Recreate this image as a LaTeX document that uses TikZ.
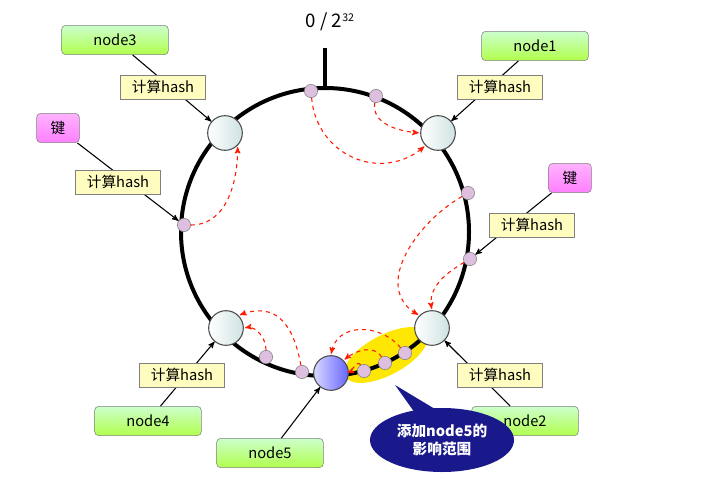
\documentclass[tikz,border=0pt]{standalone}
\usepackage{fontspec}
\setmainfont{DejaVu Sans}
\newfontfamily\cjk{Noto Sans CJK SC}
\usetikzlibrary{arrows,shapes,backgrounds}

\begin{document}
\begin{tikzpicture}[x=0.75pt,y=-0.75pt,>=stealth',font=\cjk\fontsize{11}{13}\selectfont]
        \tikzset{ringnode/.style={circle,draw=black!70,thick,minimum size=26pt,inner sep=0pt,left color=white,right color=cyan!25!gray!30},
                 newnode/.style={ringnode,left color=blue!15,right color=blue!60},
                 dot/.style={circle,draw=gray,fill=violet!25,minimum size=10pt,inner sep=0pt},
                 namebox/.style={draw=gray,rounded corners=3pt,top color=white!80!green,bottom color=green!25!lime!70,minimum width=80pt,minimum height=22pt},
                 hashbox/.style={draw=gray,fill=yellow!25,minimum width=64pt,minimum height=18pt,inner sep=2pt},
                 keybox/.style={draw=gray,rounded corners=3pt,top color=white!70!magenta,bottom color=magenta!50,minimum width=32pt,minimum height=22pt},
                 link/.style={->,thick},
                 move/.style={->,dashed,red!80!orange,thick,shorten >=1pt}}
        \useasboundingbox (0,0) rectangle (709,478);
        % highlighted range
        \fill[yellow!90!orange,rotate around={28:(386,355)}] (386,355) ellipse (46 and 20);
        % ring
        \draw[line width=3pt] (325,232) circle (144);
        \draw[line width=3pt] (325,88) -- (325,48);
        \node (top) at (330,22) {\fontsize{14}{16}\selectfont 0 / 2\raisebox{5pt}{\fontsize{8}{9}\selectfont 32}};

        \node[ringnode] (n3) at (225,133) {};
        \node[ringnode] (n1) at (438,133) {};
        \node[ringnode] (n4) at (226,328) {};
        \node[ringnode] (n2) at (432,328) {};
        \node[newnode]  (n5) at (331,373) {};

        \node[dot] (d1) at (311,91) {};
        \node[dot] (d2) at (376,96) {};
        \node[dot] (d3) at (184,225) {};
        \node[dot] (d4) at (468,193) {};
        \node[dot] (d5) at (470,259) {};
        \node[dot] (d6) at (266,357) {};
        \node[dot] (d7) at (302,372) {};
        \node[dot] (d8) at (364,371) {};
        \node[dot] (d9) at (385,363) {};
        \node[dot] (d10) at (405,353) {};

        \node[namebox] (b3) at (115,40) {node3};
        \node[namebox] (b1) at (535,46) {node1};
        \node[namebox] (b4) at (148,421) {node4};
        \node[namebox] (b5) at (270,453) {node5};
        \node[namebox] (b2) at (525,421) {node2};
        \node[keybox] (k1) at (58,128) {键};
        \node[keybox] (k2) at (570,178) {键};

        \draw[link] (b3) -- (n3);
        \draw[link] (b1) -- (n1);
        \draw[link] (b4) -- (n4);
        \draw[link] (b5) -- (n5);
        \draw[link] (b2) -- (n2);
        \draw[link] (k1) -- (d3);
        \draw[link] (k2) -- (d5);

        \node[hashbox] (h3) at (163,87) {计算hash};
        \node[hashbox] (h1) at (500,87) {计算hash};
        \node[hashbox] (hk1) at (118,182) {计算hash};
        \node[hashbox] (hk2) at (532,225) {计算hash};
        \node[hashbox] (h4) at (182,375) {计算hash};
        \node[hashbox] (h2) at (500,375) {计算hash};

        \draw[move] (d1) to[out=-85,in=-140,looseness=1.2] (n1.south west);
        \draw[move] (d2) to[out=-100,in=175] (n1.west);
        \draw[move] (d3) to[out=0,in=-90] (n3.south east);
        \draw[move] (d4) to[out=-150,in=150,looseness=1.1] (n2.north west);
        \draw[move] (d5) to[out=-150,in=100] (n2.north);
        \draw[move] (d6) to[out=90,in=10] (n4.east);
        \draw[move] (d7) to[out=100,in=20,looseness=1.3] (n4.north east);
        \draw[move] (d8) to[out=120,in=20] ([xshift=-2pt]n5.east);
        \draw[move] (d9) to[out=120,in=40] (n5.north east);
        \draw[move] (d10) to[out=130,in=80,looseness=1.2] (n5.north);

        % callout
        \fill[blue!50!black!90] (395,385) -- (420,420) -- (445,415) -- cycle;
        \node[ellipse,fill=blue!50!black!90,text=white,minimum width=108pt,minimum height=48pt,inner sep=0pt,align=center,font=\cjk\bfseries\fontsize{11}{13}\selectfont] (tip) at (442,440) {添加node5的\\影响范围};
\end{tikzpicture}
\end{document}
